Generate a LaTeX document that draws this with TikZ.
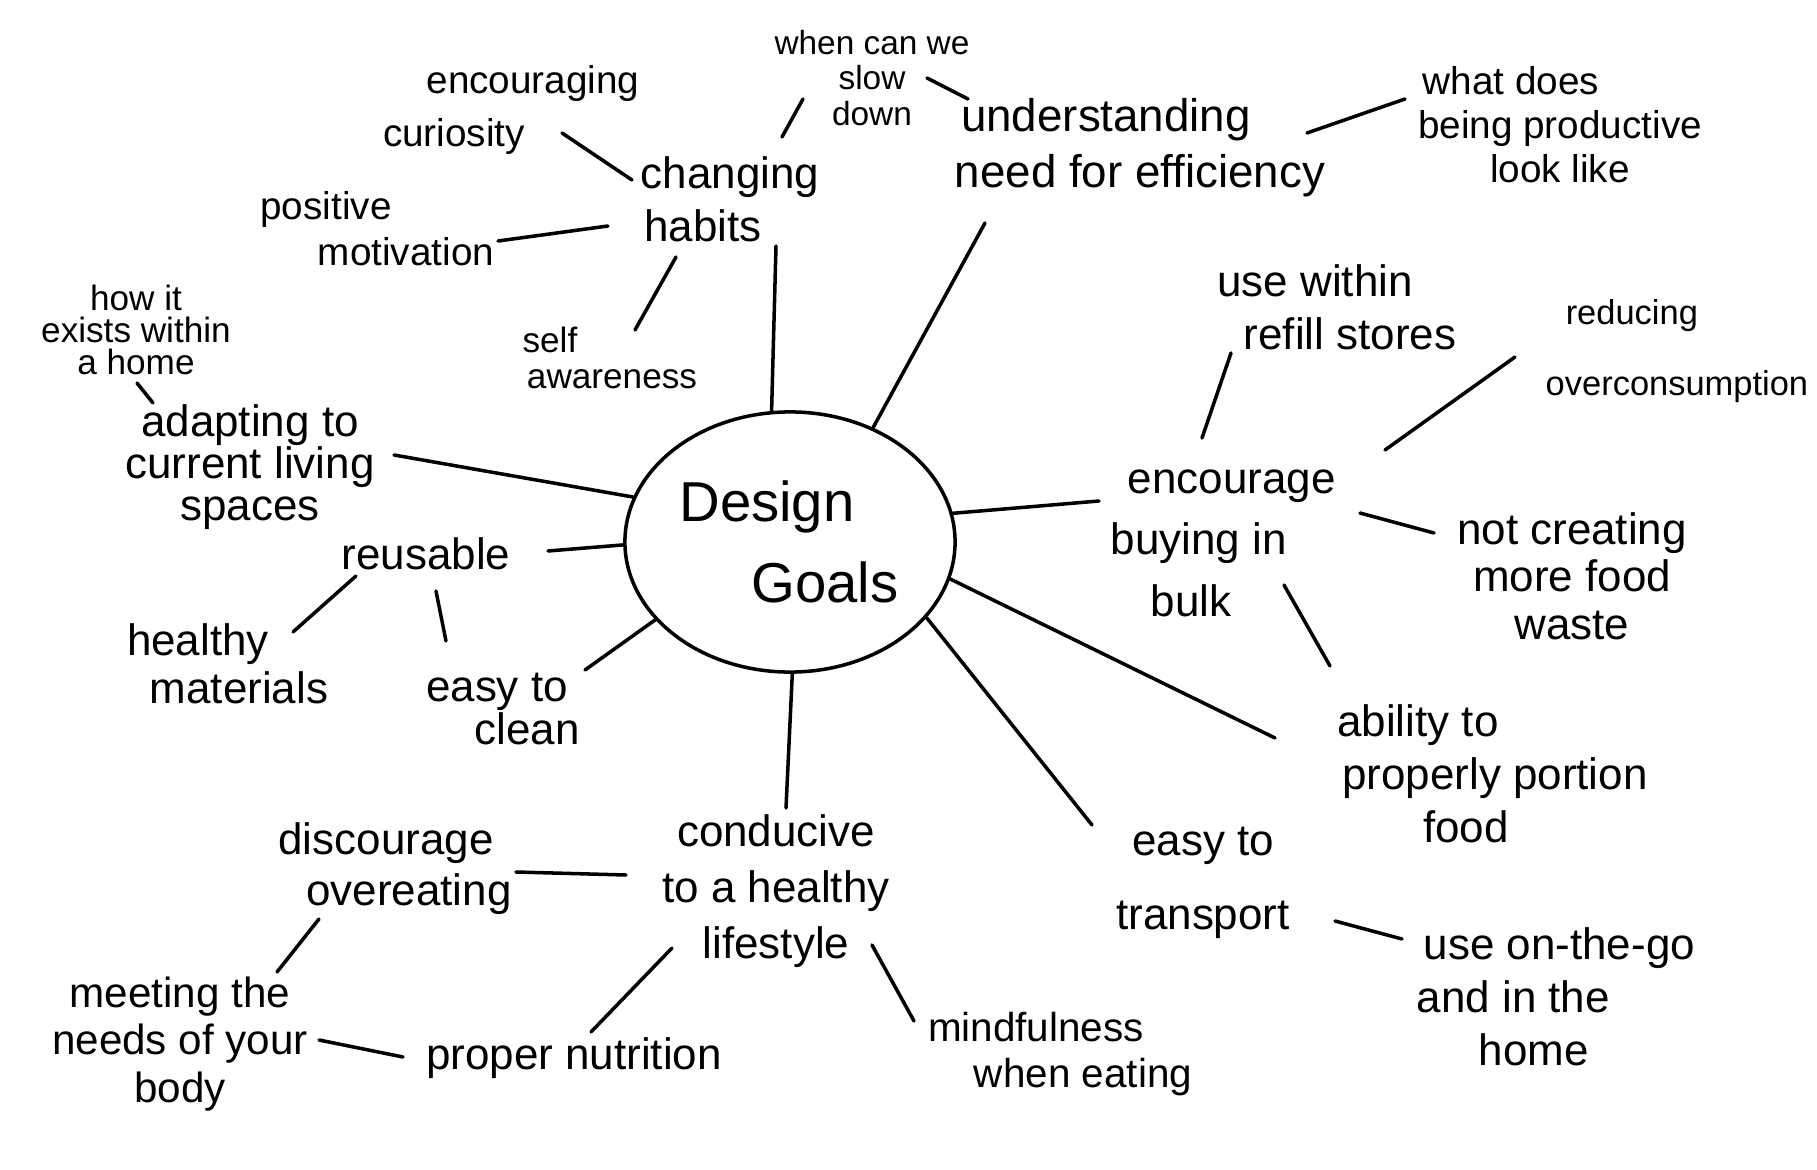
\documentclass[tikz,border=0pt]{standalone}
\usepackage{fontspec}
\setmainfont{Liberation Sans}
\usetikzlibrary{shapes.geometric}

\tikzset{
  idea/.style={align=center, inner sep=2pt, font=\fontsize{12.5}{15}\selectfont},
  note/.style={idea, font=\fontsize{10}{10}\selectfont},
  link/.style={line width=1pt, line cap=round},
}

\begin{document}
\begin{tikzpicture}[x=0.01cm, y=-0.01cm]
\fill[white] (0,0) rectangle (1817,1170);
\useasboundingbox (0,0) rectangle (1817,1170);

% centre
\node[ellipse, draw, line width=1pt, inner sep=0pt, minimum width=3.3cm, minimum height=2.6cm,
  font=\fontsize{16}{23}\selectfont, align=center] (goals) at (790,542)
  {Design\hspace*{0.46cm}\\\hspace*{0.7cm}Goals};

% top
\node[idea] (habits) at (730,199) {changing\\habits\hspace*{0.54cm}};
\node[note, font=\fontsize{9.5}{10}\selectfont] (slow) at (872,78) {when can we\\slow\\down};
\node[idea, font=\fontsize{13}{16}\selectfont] (efficiency) at (1140,148) {understanding\hspace*{0.68cm}\\need for efficiency};
\node[idea, font=\fontsize{11}{12.5}\selectfont] (productive) at (1560,125) {what does\hspace*{0.98cm}\\being productive\\look like};
\node[idea, font=\fontsize{11}{15}\selectfont] (curiosity) at (533,110) {encouraging\\curiosity\hspace*{1.58cm}};
\node[idea, font=\fontsize{11}{13}\selectfont] (motivation) at (326,229) {positive\\\hspace*{1.6cm}motivation};
\node[note] (selfaware) at (612,358) {self\hspace*{1.24cm}\\awareness};

% left
\node[note, font=\fontsize{10}{9}\selectfont] (home) at (136,330) {how it\\exists within\\a home};
\node[idea, font=\fontsize{12.5}{12}\selectfont] (adapting) at (250,467) {adapting to\\current living\\spaces};
\node[idea] (reusable) at (426,554) {reusable};
\node[idea, font=\fontsize{12.5}{13.5}\selectfont] (healthymat) at (239,664) {healthy\hspace*{0.82cm}\\materials};
\node[idea, font=\fontsize{12.5}{12}\selectfont] (clean) at (497,709) {easy to\\\hspace*{0.6cm}clean};

% right
\node[idea] (refill) at (1350,307) {use within\hspace*{0.7cm}\\refill stores};
\node[idea, font=\fontsize{9.8}{20}\selectfont, align=left, anchor=west] (overcons) at (1538,351) {\hspace*{0.2cm}reducing\\overconsumption};
\node[idea, align=left, anchor=west, font=\fontsize{12.5}{17.5}\selectfont] (encourage) at (1103,543) {\hspace*{0.17cm}encourage\\buying in\\\hspace*{0.4cm}bulk};
\node[idea, font=\fontsize{12.5}{13.5}\selectfont] (notcreating) at (1572,576) {not creating\\more food\\waste};
\node[idea] (portion) at (1495,774) {ability to\hspace*{1.54cm}\\properly portion\\food\hspace*{0.58cm}};
\node[idea, font=\fontsize{12.5}{21}\selectfont] (transport) at (1203,883) {easy to\\transport};
\node[idea, align=left, anchor=west] (onthego) at (1409,997) {\hspace*{0.07cm}use on-the-go\\and in the\\\hspace*{0.62cm}home};

% bottom
\node[idea, font=\fontsize{12.5}{16}\selectfont] (conducive) at (776,891) {conducive\\to a healthy\\lifestyle};
\node[idea, font=\fontsize{12.5}{14.5}\selectfont] (overeating) at (386,869) {discourage\\\hspace*{0.46cm}overeating};
\node[idea, font=\fontsize{12}{13.5}\selectfont] (needs) at (180,1044) {meeting the\\needs of your\\body};
\node[idea] (nutrition) at (574,1058) {proper nutrition};
\node[idea, font=\fontsize{11.5}{13}\selectfont] (mindful) at (1036,1054) {mindfulness\\\hspace*{0.94cm}when eating};

% links
\draw[link] (goals.98) -- ([shift={(46,47)}]habits.center);
\draw[link] ([shift={(52,-62)}]habits.center) -- ([shift={(-69,21)}]slow.center);
\draw[link] ([shift={(55,0)}]slow.center) -- ([shift={(-172,-49)}]efficiency.center);
\draw[link] ([shift={(167,-15)}]efficiency.center) -- ([shift={(-155,-26)}]productive.center);
\draw[link] (goals.54.5) -- ([shift={(-155,75)}]efficiency.center);
\draw[link] ([shift={(-98,-19)}]habits.center) -- ([shift={(29,23)}]curiosity.center);
\draw[link] ([shift={(-122,27)}]habits.center) -- ([shift={(172,12)}]motivation.center);
\draw[link] ([shift={(-54,58)}]habits.center) -- ([shift={(23,-28)}]selfaware.center);

\draw[link] ([shift={(1,53)}]home.center) -- ([shift={(-97,-64)}]adapting.center);
\draw[link] ([shift={(144,-12)}]adapting.center) -- (goals.164);
\draw[link] ([shift={(122,-3)}]reusable.center) -- (goals.181);
\draw[link] ([shift={(-70,22)}]reusable.center) -- ([shift={(54,-32)}]healthymat.center);
\draw[link] ([shift={(10,37)}]reusable.center) -- ([shift={(-51,-68)}]clean.center);
\draw[link] ([shift={(88,-39)}]clean.center) -- (goals.210);

\draw[link] (goals.10) -- ([shift={(-4,-42)}]encourage.west);
\draw[link] ([shift={(99,-105)}]encourage.west) -- ([shift={(-119,46)}]refill.center);
\draw[link] ([shift={(282,-93)}]encourage.west) -- ([shift={(-23,6)}]overcons.west);
\draw[link] ([shift={(257,-30)}]encourage.west) -- ([shift={(-138,-43)}]notcreating.center);
\draw[link] ([shift={(181,42)}]encourage.west) -- ([shift={(-165,-108)}]portion.center);
\draw[link] (goals.-13) -- ([shift={(-220,-36)}]portion.center);
\draw[link] (goals.-29) -- ([shift={(-111,-58)}]transport.center);
\draw[link] ([shift={(132,38)}]transport.center) -- ([shift={(-7,-58)}]onthego.west);

\draw[link] (goals.-89) -- ([shift={(10,-83)}]conducive.center);
\draw[link] ([shift={(-150,-16)}]conducive.center) -- ([shift={(130,3)}]overeating.center);
\draw[link] ([shift={(-67,50)}]overeating.center) -- ([shift={(97,-72)}]needs.center);
\draw[link] ([shift={(139,-4)}]needs.center) -- ([shift={(-171,-1)}]nutrition.center);
\draw[link] ([shift={(17,-26)}]nutrition.center) -- ([shift={(-104,57)}]conducive.center);
\draw[link] ([shift={(96,54)}]conducive.center) -- ([shift={(-122,-33)}]mindful.center);
\end{tikzpicture}
\end{document}
